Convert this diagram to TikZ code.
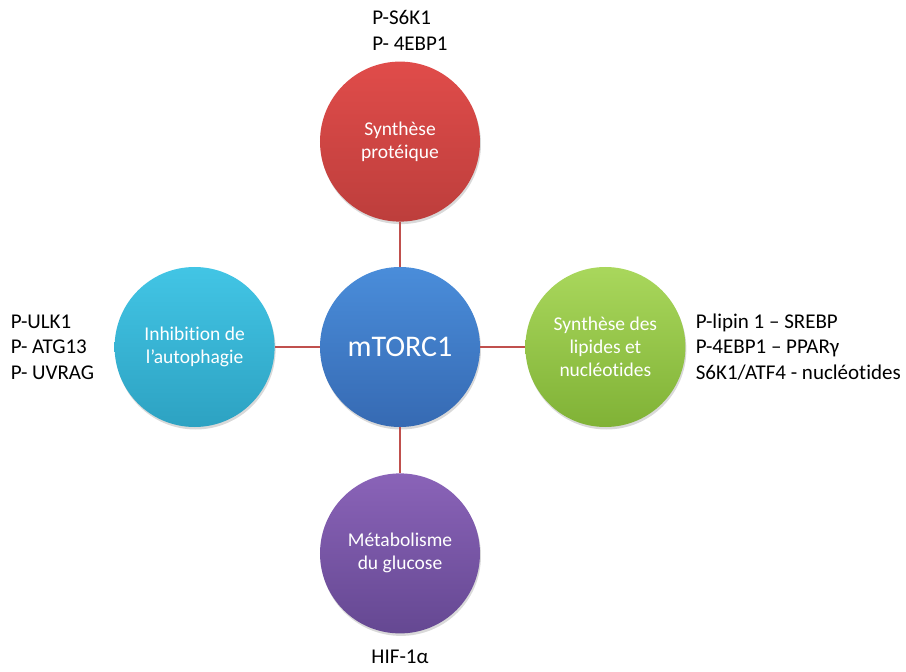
\documentclass[tikz,border=0pt]{standalone}
\usepackage{fontspec}
\setmainfont[Ligatures={NoCommon}]{Carlito}
\usetikzlibrary{positioning,shadows}
\definecolor{linkRed}{HTML}{C0504D}
\definecolor{protRedTop}{HTML}{E04C4A}
\definecolor{protRedBot}{HTML}{BD3E3C}
\definecolor{coreBlueTop}{HTML}{4A8DDA}
\definecolor{coreBlueBot}{HTML}{366AB3}
\definecolor{autoCyanTop}{HTML}{42C5E5}
\definecolor{autoCyanBot}{HTML}{2DA2C2}
\definecolor{lipGreenTop}{HTML}{A9D75C}
\definecolor{lipGreenBot}{HTML}{80B236}
\definecolor{glucPurpleTop}{HTML}{8A63B8}
\definecolor{glucPurpleBot}{HTML}{654892}

\begin{document}
\begin{tikzpicture}[x=1pt, y=1pt,
  disc/.style={circle, minimum size=160pt, inner sep=0pt, align=center, text=white,
    font=\fontsize{19.5}{23}\selectfont,
    drop shadow={opacity=0.3, shadow xshift=1pt, shadow yshift=-2.5pt}},
  prot/.style={disc, top color=protRedTop, bottom color=protRedBot},
  core/.style={disc, top color=coreBlueTop, bottom color=coreBlueBot, font=\fontsize{30}{34}\selectfont},
  auto/.style={disc, top color=autoCyanTop, bottom color=autoCyanBot},
  lip/.style={disc, top color=lipGreenTop, bottom color=lipGreenBot},
  gluc/.style={disc, top color=glucPurpleTop, bottom color=glucPurpleBot},
  note/.style={align=left, inner sep=0pt, font=\fontsize{21}{25.5}\selectfont},
  link/.style={draw=linkRed, line width=1.6pt}
]
\useasboundingbox (-400,347) rectangle (506,-325);
\node[core] (mtor) {mTORC1};
\node[prot, above=45pt of mtor] (protsyn) {Synthèse\\protéique};
\node[auto, left=45pt of mtor] (autoinh) {Inhibition de\\l’autophagie};
\node[lip, right=45pt of mtor] (lipsyn) {Synthèse des\\lipides et\\nucléotides};
\node[gluc, below=46pt of mtor] (glucmet) {Métabolisme\\du glucose};
\draw[link] (mtor) -- (protsyn);
\draw[link] (mtor) -- (autoinh);
\draw[link] (mtor) -- (lipsyn);
\draw[link] (mtor) -- (glucmet);
\node[note, above=11pt of protsyn, xshift=10pt] (protnote) {P-S6K1\\P- 4EBP1};
\node[note, left=20pt of autoinh] (autonote) {P-ULK1\\P- ATG13\\P- UVRAG};
\node[note, right=10pt of lipsyn] (lipnote) {P-lipin 1 – SREBP\\P-4EBP1 – PPARγ\\S6K1/ATF4 - nucléotides};
\node[note, below=16pt of glucmet] (glucnote) {HIF-1α};
\end{tikzpicture}
\end{document}
